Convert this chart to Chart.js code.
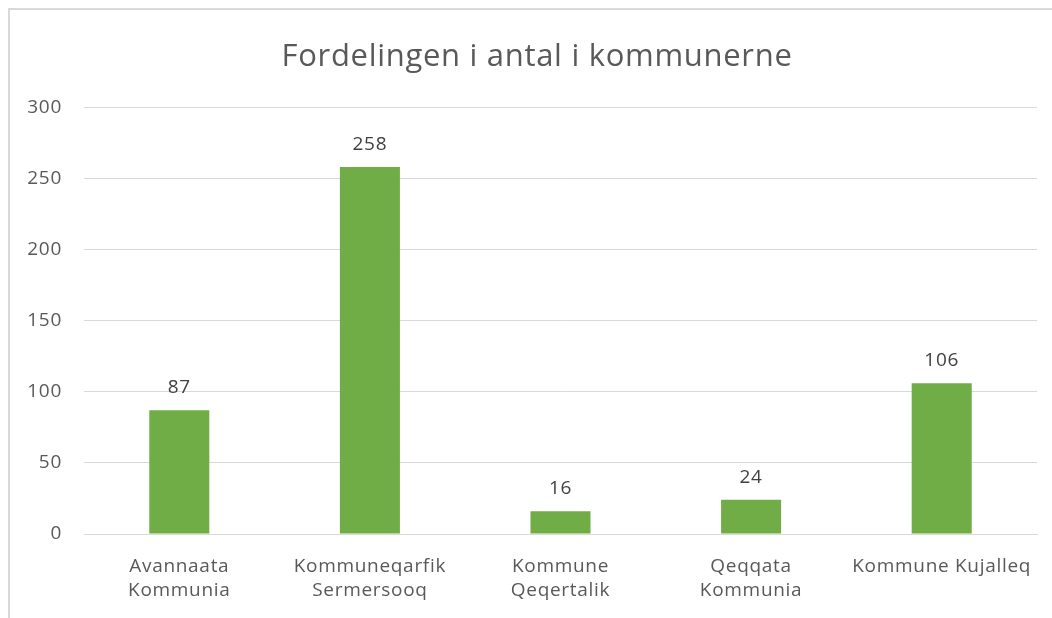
<!DOCTYPE html>
<html>
<head>
<meta charset="utf-8">
<script src="https://cdn.jsdelivr.net/npm/chart.js@4.4.1/dist/chart.umd.min.js"></script>
<style>
	html, body { margin: 0; padding: 0; background: #fff; overflow: hidden; }
	#wrap { position: relative; width: 1052px; height: 618px; overflow: hidden; }
	#frame { position: absolute; left: 8px; top: 8px; width: 1100px; height: 700px;
		border-left: 2px solid #d9d9d9; border-top: 2px solid #d9d9d9; box-sizing: border-box; }
	canvas { position: absolute; left: 0; top: 0; }
</style>
</head>
<body>
<div id="wrap">
	<div id="frame"></div>
	<canvas id="kommChart" width="1074" height="618"></canvas>
</div>
<script>
var kommuner = [
	['Avannaata', 'Kommunia'],
	['Kommuneqarfik', 'Sermersooq'],
	['Kommune', 'Qeqertalik'],
	['Qeqqata', 'Kommunia'],
	'Kommune Kujalleq'
];
var antal = [87, 258, 16, 24, 106];
var yTicks = [0, 50, 100, 150, 200, 250, 300];

// lidt bredere tekst, som i Excel
var spacing = {
	id: 'spacing',
	beforeDraw: function(chart) {
		chart.ctx.letterSpacing = '0.7px';
	}
};

// tal over søjlerne
var barLabels = {
	id: 'barLabels',
	afterDatasetsDraw: function(chart) {
		var ctx = chart.ctx;
		var meta = chart.getDatasetMeta(0);
		ctx.save();
		ctx.fillStyle = '#404040';
		ctx.font = '19px "Open Sans"';
		ctx.textAlign = 'center';
		ctx.textBaseline = 'alphabetic';
		meta.data.forEach(function(bar, i) {
			ctx.fillText(chart.data.datasets[0].data[i], bar.x, bar.y - 17);
		});
		ctx.restore();
	}
};

var chartArea = document.getElementById('kommChart').getContext('2d');
var myChart = new Chart(chartArea, {
	type: 'bar',
	data: {
		labels: kommuner,
		datasets: [{
			label: 'Antal',
			data: antal,
			backgroundColor: '#70AD47',
			borderWidth: 0,
			barPercentage: 0.315,
			categoryPercentage: 1
		}]
	},
	options: {
		responsive: false,
		animation: false,
		layout: { padding: 0 },
		plugins: {
			legend: { display: false },
			tooltip: { enabled: false },
			title: {
				display: true,
				text: 'Fordelingen i antal i kommunerne',
				color: '#595959',
				font: { family: '"Open Sans"', size: 31, weight: 'normal', lineHeight: 1.2 },
				padding: { top: 39, bottom: 31 }
			}
		},
		scales: {
			y: {
				min: 0,
				max: 300,
				afterFit: function(scale) { scale.width = 84; },
				afterBuildTicks: function(scale) {
					scale.ticks = yTicks.map(function(v) { return { value: v }; });
				},
				grid: { color: '#d9d9d9', lineWidth: 1, drawTicks: false },
				border: { display: false },
				ticks: {
					color: '#595959',
					padding: 22,
					font: { family: '"Open Sans"', size: 19 }
				}
			},
			// tom akse til højre, kun for at give luft
			yRight: {
				position: 'right',
				afterFit: function(scale) { scale.width = 37; },
				grid: { display: false, drawTicks: false },
				border: { display: false },
				ticks: { display: false }
			},
			x: {
				afterFit: function(scale) { scale.height = 84; },
				grid: { display: false, drawTicks: false },
				border: { display: true, color: '#d9d9d9', width: 1 },
				ticks: {
					color: '#595959',
					padding: 20,
					maxRotation: 0,
					autoSkip: false,
					font: { family: '"Open Sans"', size: 19, lineHeight: 1.3 }
				}
			}
		}
	},
	plugins: [spacing, barLabels]
});
</script>
</body>
</html>
